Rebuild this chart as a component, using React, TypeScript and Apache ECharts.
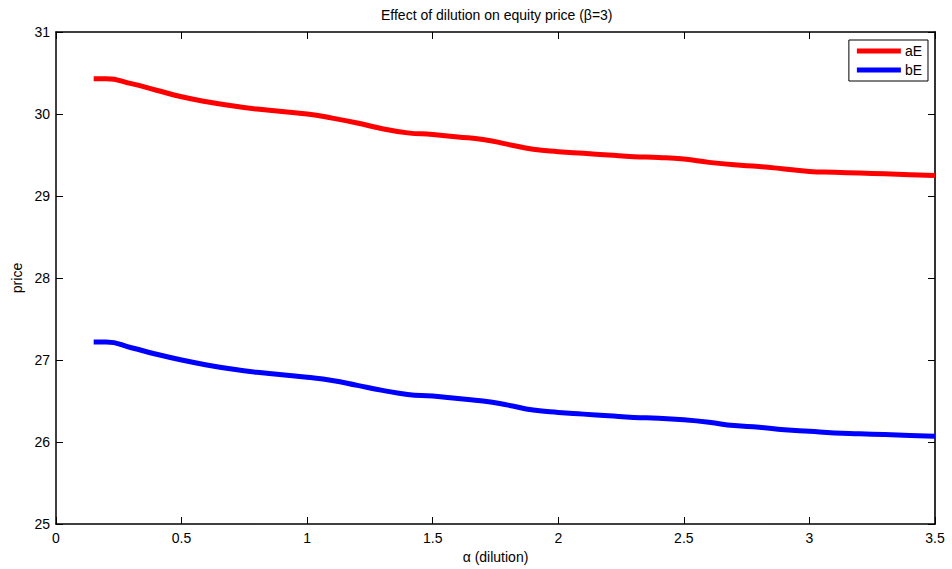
import React, { useEffect, useRef } from "react";
import * as echarts from "echarts";

const alphaValues = [0.15, 0.2, 0.3, 0.4, 0.5, 0.6, 0.7, 0.8, 0.9, 1.0, 1.1, 1.2, 1.3, 1.4, 1.5, 1.6, 1.7, 1.8, 1.9, 2.0, 2.1, 2.2, 2.3, 2.4, 2.5, 2.6, 2.7, 2.8, 2.9, 3.0, 3.1, 3.2, 3.3, 3.4, 3.5];
const aE = [30.43, 30.43, 30.37, 30.29, 30.21, 30.15, 30.10, 30.06, 30.03, 30.00, 29.95, 29.89, 29.82, 29.77, 29.75, 29.72, 29.69, 29.63, 29.57, 29.54, 29.52, 29.50, 29.48, 29.47, 29.45, 29.41, 29.38, 29.36, 29.33, 29.30, 29.29, 29.28, 29.27, 29.26, 29.25];
const bE = [27.22, 27.22, 27.15, 27.07, 27.00, 26.94, 26.89, 26.85, 26.82, 26.79, 26.75, 26.69, 26.63, 26.58, 26.56, 26.53, 26.50, 26.45, 26.39, 26.36, 26.34, 26.32, 26.30, 26.29, 26.27, 26.24, 26.20, 26.18, 26.15, 26.13, 26.11, 26.10, 26.09, 26.08, 26.07];
const seriesNames = ["aE", "bE"];
const titleText = "Effect of dilution on equity price (\u03b2=3)";
const xName = "\u03b1 (dilution)";
const yName = "price";

const FONT = "'Liberation Sans', Arial, Helvetica, sans-serif";

export default function App() {
  const ref = useRef<HTMLDivElement>(null);
  useEffect(() => {
    if (!ref.current) return;
    const chart = echarts.init(ref.current, null, { renderer: "svg" });
    const axisCommon = {
      axisLine: { show: true, onZero: false, lineStyle: { color: "#000", width: 1.5 } },
      axisTick: { show: true, inside: true, length: 7, lineStyle: { color: "#000" } },
      splitLine: { show: false },
    };
    chart.setOption({
      animation: false,
      backgroundColor: "#fff",
      textStyle: { fontFamily: FONT },
      title: {
        text: titleText,
        left: 376,
        top: 3,
        textStyle: { fontFamily: FONT, fontSize: 14, fontWeight: "normal", color: "#000" },
      },
      legend: {
        data: seriesNames,
        orient: "vertical",
        right: 24,
        top: 40,
        padding: [4, 6, 4, 8],
        itemGap: 5,
        itemWidth: 44,
        itemHeight: 5,
        icon: "rect",
        borderColor: "#000",
        borderWidth: 1,
        backgroundColor: "#fff",
        textStyle: { fontFamily: FONT, fontSize: 14, color: "#000", padding: [0, 0, 0, -1] },
      },
      grid: { left: 56, top: 32, width: 879, height: 492, containLabel: false },
      xAxis: [
        {
          type: "value",
          min: 0,
          max: 3.5,
          interval: 0.5,
          name: xName,
          nameLocation: "middle",
          nameGap: 22,
          nameTextStyle: { fontFamily: FONT, fontSize: 14, color: "#000" },
          axisLabel: { fontFamily: FONT, fontSize: 14, color: "#000", margin: 7 },
          ...axisCommon,
        },
        {
          type: "value",
          position: "top",
          min: 0,
          max: 3.5,
          interval: 0.5,
          axisLabel: { show: false },
          ...axisCommon,
        },
      ],
      yAxis: [
        {
          type: "value",
          min: 25,
          max: 31,
          interval: 1,
          name: yName,
          nameLocation: "middle",
          nameGap: 27,
          nameTextStyle: { fontFamily: FONT, fontSize: 14, color: "#000" },
          axisLabel: { fontFamily: FONT, fontSize: 14, color: "#000", margin: 6 },
          ...axisCommon,
        },
        {
          type: "value",
          position: "right",
          min: 25,
          max: 31,
          interval: 1,
          axisLabel: { show: false },
          ...axisCommon,
          axisLine: { show: true, onZero: false, lineStyle: { color: "#333", width: 2 } },
        },
      ],
      series: [
        {
          name: seriesNames[0],
          type: "line",
          data: alphaValues.map((x, i) => [x, aE[i]]),
          showSymbol: false,
          smooth: 0.5,
          lineStyle: { color: "#ff0000", width: 5 },
          itemStyle: { color: "#ff0000" },
        },
        {
          name: seriesNames[1],
          type: "line",
          data: alphaValues.map((x, i) => [x, bE[i]]),
          showSymbol: false,
          smooth: 0.5,
          lineStyle: { color: "#0000ff", width: 5 },
          itemStyle: { color: "#0000ff" },
        },
      ],
    });
    return () => chart.dispose();
  }, []);
  return <div ref={ref} style={{ width: 952, height: 569, position: "absolute", left: 0, top: 0 }} />;
}
